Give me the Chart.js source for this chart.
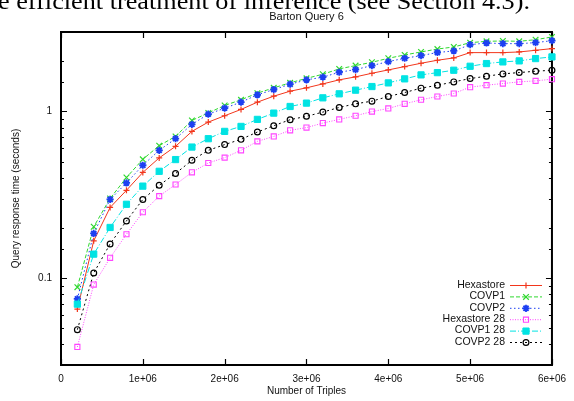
<!DOCTYPE html>
<html>
<head>
<meta charset="utf-8">
<script src="https://cdn.jsdelivr.net/npm/chart.js@4/dist/chart.umd.min.js"></script>
<style>
  html, body { margin: 0; padding: 0; background: #fff; overflow: hidden; }
  canvas { display: block; }
</style>
</head>
<body>
<canvas id="c" width="574" height="401"></canvas>
<script>
// Dataset sizes (number of triples) at which each query was timed
const triples = [200000, 400000, 600000, 800000, 1000000, 1200000, 1400000, 1600000, 1800000, 2000000,
                 2200000, 2400000, 2600000, 2800000, 3000000, 3200000, 3400000, 3600000, 3800000, 4000000,
                 4200000, 4400000, 4600000, 4800000, 5000000, 5200000, 5400000, 5600000, 5800000, 6000000];

// Query response times in seconds
const hexastore = [0.065, 0.167, 0.265, 0.336, 0.430, 0.526, 0.617, 0.759, 0.863, 0.942,
                   1.028, 1.137, 1.235, 1.323, 1.386, 1.464, 1.548, 1.613, 1.696, 1.776,
                   1.860, 1.947, 2.030, 2.096, 2.256, 2.256, 2.256, 2.277, 2.329, 2.384];
const covp1 = [0.088, 0.203, 0.300, 0.401, 0.516, 0.623, 0.708, 0.883, 0.980, 1.086,
               1.175, 1.288, 1.386, 1.486, 1.580, 1.673, 1.801, 1.886, 1.974, 2.086,
               2.184, 2.277, 2.370, 2.439, 2.589, 2.638, 2.650, 2.638, 2.698, 2.800];
const covp2 = [0.0748, 0.185, 0.296, 0.372, 0.475, 0.584, 0.686, 0.836, 0.963, 1.046,
               1.137, 1.259, 1.354, 1.457, 1.548, 1.606, 1.720, 1.784, 1.886, 1.993,
               2.086, 2.164, 2.260, 2.308, 2.518, 2.577, 2.554, 2.554, 2.589, 2.662];
const hexastore28 = [0.0385, 0.0912, 0.132, 0.183, 0.248, 0.310, 0.364, 0.431, 0.490, 0.528,
                     0.584, 0.661, 0.708, 0.770, 0.800, 0.851, 0.896, 0.942, 0.998, 1.042,
                     1.111, 1.175, 1.230, 1.282, 1.399, 1.438, 1.471, 1.505, 1.526, 1.562];
const covp1_28 = [0.0696, 0.139, 0.201, 0.277, 0.356, 0.437, 0.514, 0.611, 0.686, 0.759,
                  0.813, 0.896, 0.977, 1.071, 1.122, 1.207, 1.276, 1.342, 1.411, 1.484,
                  1.569, 1.658, 1.710, 1.768, 1.868, 1.939, 1.984, 2.012, 2.077, 2.126];
const covp2_28 = [0.0489, 0.107, 0.160, 0.220, 0.296, 0.360, 0.424, 0.509, 0.584, 0.632,
                  0.680, 0.752, 0.821, 0.892, 0.935, 0.991, 1.057, 1.111, 1.153, 1.230,
                  1.299, 1.380, 1.435, 1.505, 1.576, 1.627, 1.681, 1.712, 1.744, 1.768];

const seriesNames = ['Hexastore', 'COVP1', 'COVP2', 'Hexastore 28', 'COVP1 28', 'COVP2 28'];
const xTickLabels = ['0', '1e+06', '2e+06', '3e+06', '4e+06', '5e+06', '6e+06'];
const yTickLabels = { 0.1: '0.1', 1: '1' };

const chartTitle = 'Barton Query 6';
const captionLine = 'e efficient treatment of inference (see Section 4.3).';
const xAxisTitle = 'Number of Triples';
const yAxisTitle = 'Query response time (seconds)';

const SANS = '"Liberation Sans", Arial, sans-serif';

function pts(values) {
  return values.map((v, i) => ({ x: triples[i], y: v }));
}

const styles = [
  { color: '#f2361c', pointStyle: 'cross',    radius: 3.0, pbw: 1.2, dash: [],           fill: false },
  { color: '#2fd82f', pointStyle: 'crossRot', radius: 4.0, pbw: 1.2, dash: [4, 2],       fill: false },
  { color: '#1d3ff2', pointStyle: 'star',     radius: 3.6, pbw: 1.8, dash: [1.5, 2.5],   fill: false },
  { color: '#ff45ff', pointStyle: 'rect',     radius: 3.6, pbw: 1.1, dash: [1, 1.5],     fill: false },
  { color: '#00e3e3', pointStyle: 'rect',     radius: 4.4, pbw: 1.0, dash: [6, 2, 1, 2], fill: true },
  { color: '#000000', pointStyle: 'circle',   radius: 2.9, pbw: 1.2, dash: [2, 3],       fill: false }
];
const seriesValues = [hexastore, covp1, covp2, hexastore28, covp1_28, covp2_28];

const datasets = seriesValues.map((vals, k) => {
  const s = styles[k];
  return {
    label: seriesNames[k],
    data: pts(vals),
    borderColor: s.color,
    backgroundColor: s.fill ? s.color : 'rgba(0,0,0,0)',
    borderWidth: 1,
    borderDash: s.dash,
    pointStyle: s.pointStyle,
    pointRadius: s.radius,
    pointBorderWidth: s.pbw,
    pointBorderColor: s.color,
    pointBackgroundColor: s.fill ? s.color : 'rgba(0,0,0,0)',
    tension: 0,
    clip: false,
    order: seriesNames.length - k
  };
});

// Frame and inward tick marks on all four sides
const framePlugin = {
  id: 'frame',
  beforeDatasetsDraw(chart) {
    const { ctx, chartArea: a, scales } = chart;
    ctx.save();
    ctx.strokeStyle = '#000';
    ctx.lineWidth = 1.2;
    ctx.setLineDash([]);
    ctx.beginPath();
    scales.x.ticks.forEach(t => {
      const px = Math.round(scales.x.getPixelForValue(t.value)) + 0.5;
      ctx.moveTo(px, a.bottom); ctx.lineTo(px, a.bottom - 6);
      ctx.moveTo(px, a.top);    ctx.lineTo(px, a.top + 6);
    });
    scales.y.ticks.forEach(t => {
      const py = Math.round(scales.y.getPixelForValue(t.value)) + 0.5;
      const lg = Math.log10(t.value);
      const len = Math.abs(lg - Math.round(lg)) < 1e-9 ? 6 : 3;
      ctx.moveTo(a.left, py);  ctx.lineTo(a.left + len, py);
      ctx.moveTo(a.right, py); ctx.lineTo(a.right - len, py);
    });
    ctx.stroke();
    ctx.lineWidth = 2;
    ctx.strokeRect(a.left, a.top, a.right - a.left, a.bottom - a.top);
    ctx.restore();
  },
  afterDraw(chart) {
    const { ctx, chartArea: a } = chart;
    ctx.save();
    ctx.fillStyle = '#000';
    // running text of the page above the figure, stretched to its line width
    ctx.font = '24px "Liberation Serif", "DejaVu Serif", serif';
    ctx.textAlign = 'left';
    ctx.textBaseline = 'alphabetic';
    const w = ctx.measureText(captionLine).width;
    const left = -2, right = 530;
    ctx.save();
    ctx.translate(left, 9);
    ctx.scale((right - left) / w, 1);
    ctx.fillText(captionLine, 0, 0);
    ctx.restore();
    // chart title
    ctx.font = '11px ' + SANS;
    ctx.textAlign = 'center';
    ctx.textBaseline = 'middle';
    ctx.fillStyle = '#111';
    ctx.fillText(chartTitle, (a.left + a.right) / 2, 17);
    ctx.restore();
  }
};

// Key in the lower right corner: label, then line sample with its marker
const keyPlugin = {
  id: 'key',
  afterDatasetsDraw(chart) {
    const { ctx } = chart;
    const textRight = 505, x0 = 510, x1 = 542, y0 = 285, step = 11.4;
    ctx.save();
    chart.data.datasets.forEach((ds, i) => {
      const y = y0 + i * step;
      ctx.font = '10.5px ' + SANS;
      ctx.fillStyle = '#111';
      ctx.textAlign = 'right';
      ctx.textBaseline = 'middle';
      ctx.fillText(ds.label, textRight, y);
      ctx.strokeStyle = ds.borderColor;
      ctx.lineWidth = ds.borderWidth;
      ctx.setLineDash(ds.borderDash);
      ctx.beginPath();
      ctx.moveTo(x0, y + 0.5);
      ctx.lineTo(x1, y + 0.5);
      ctx.stroke();
      ctx.setLineDash([]);
      ctx.strokeStyle = ds.pointBorderColor;
      ctx.fillStyle = ds.pointBackgroundColor;
      ctx.lineWidth = ds.pointBorderWidth;
      Chart.helpers.drawPoint(ctx, {
        pointStyle: ds.pointStyle,
        radius: ds.pointRadius,
        rotation: 0,
        borderWidth: ds.pointBorderWidth
      }, (x0 + x1) / 2, y + 0.5);
    });
    ctx.restore();
  }
};

new Chart(document.getElementById('c'), {
  type: 'line',
  data: { datasets },
  plugins: [framePlugin, keyPlugin],
  options: {
    responsive: false,
    animation: false,
    devicePixelRatio: 1,
    layout: { padding: { top: 32, right: 17, left: 0, bottom: 0 } },
    plugins: {
      legend: { display: false },
      title: { display: false },
      tooltip: { enabled: false }
    },
    scales: {
      x: {
        type: 'linear',
        min: 0,
        max: 6000000,
        afterFit(s) { s.height = 36; },
        grid: { display: false, drawTicks: false },
        border: { display: false },
        ticks: {
          stepSize: 1000000,
          autoSkip: false,
          maxRotation: 0,
          padding: 8,
          color: '#111',
          font: { family: SANS, size: 10 },
          callback: (v) => xTickLabels[Math.round(v / 1000000)]
        },
        title: {
          display: true,
          text: xAxisTitle,
          color: '#111',
          font: { family: SANS, size: 10 },
          padding: { top: 0, bottom: 4 }
        }
      },
      y: {
        type: 'logarithmic',
        min: 0.03,
        max: 3,
        afterFit(s) { s.width = 61; },
        grid: { display: false, drawTicks: false },
        border: { display: false },
        ticks: {
          autoSkip: false,
          padding: 9,
          color: '#111',
          font: { family: SANS, size: 10 },
          callback: (v) => yTickLabels[v] || ''
        },
        title: {
          display: true,
          text: yAxisTitle,
          color: '#111',
          font: { family: SANS, size: 10 },
          padding: { top: 10, bottom: 0 }
        }
      }
    }
  }
});
</script>
</body>
</html>
